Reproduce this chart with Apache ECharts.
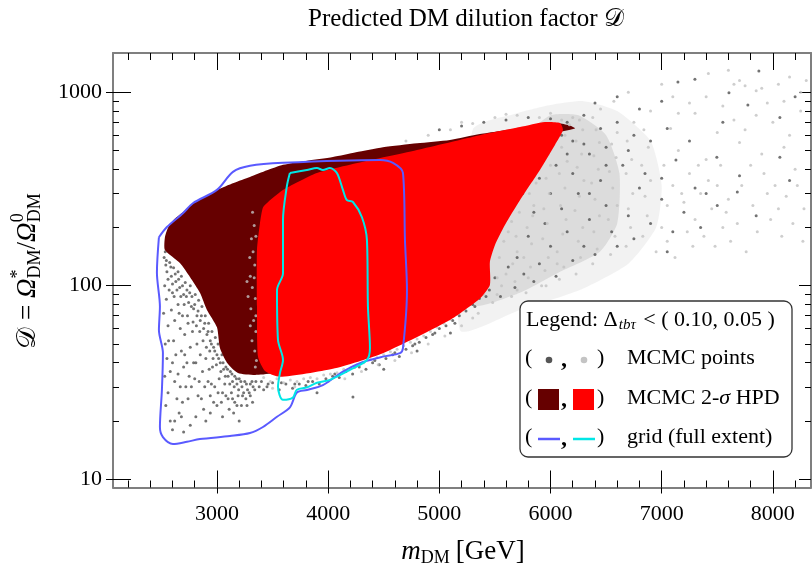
<!DOCTYPE html>
<html lang="en">
<head>
<meta charset="UTF-8" />
<title>Predicted DM dilution factor</title>
<script src="https://cdn.jsdelivr.net/npm/echarts@6/dist/echarts.min.js"></script>
<style>
  html, body { margin: 0; padding: 0; background: #fff; }
  #chart { width: 812px; height: 572px; }
</style>
</head>
<body>
<div id="chart"></div>
<script>
// axis ranges and ticks
const xRange = [2065, 8343];
const yRange = [9.05, 1597];
const xMajor = [3000, 4000, 5000, 6000, 7000, 8000];
const xMinor = [2200, 2400, 2600, 2800, 3200, 3400, 3600, 3800, 4200, 4400, 4600, 4800,
  5200, 5400, 5600, 5800, 6200, 6400, 6600, 6800, 7200, 7400, 7600, 7800, 8200];
const yMajor = [10, 100, 1000];
const yMinor = [20, 30, 40, 50, 60, 70, 80, 90, 200, 300, 400, 500, 600, 700, 800, 900];

// MCMC 2-sigma HPD regions  [m_DM, D]
const hpdDark = [[2532,153],[2532,178],[2559,199],[2620,222],[2694,240],[2800,270],[2900,290],
  [3000,313],[3150,340],[3297,365],[3450,395],[3594,422],[3800,442],[4043,463],[4250,490],
  [4493,520],[4800,545],[5095,567],[5365,608],[5725,654],[5950,680],[6085,690],[6180,672],
  [6220,650],[6000,600],[5800,400],[5550,250],[5380,120],[5200,82],[4646,56],[3746,37],
  [3360,34.6],[3189,35.4],[3090,40],[3027,47.6],[3000,61],[2910,75],[2847,92],[2757,111],
  [2667,131]];
const hpdRed = [[3414,254],[3477,277],[3594,313],[3746,348],[3899,383],[4196,422],[4799,503],
  [5365,600],[5725,661],[5950,702],[6085,694],[6112,638],[6040,534],[5905,397],[5725,277],
  [5590,206],[5500,162],[5455,133],[5455,101],[5365,86],[5095,66.5],[4493,44.8],[4043,37.2],
  [3567,33.8],[3432,36.2],[3369,43],[3360,78],[3360,153],[3387,211]];

// grid scan full extent contours
const gridBlue = [[2478,178],[2460,117],[2487,78],[2478,59],[2514,45],[2505,29],[2487,18.6],
  [2514,16.5],[2604,15.2],[2730,15.6],[2847,16.1],[3117,16.7],[3297,17.3],[3414,18.6],[3540,21],
  [3656,23.5],[3719,28],[3809,28.9],[3953,30.6],[4133,36],[4313,40.3],[4493,43],[4646,44.8],
  [4673,47.6],[4709,95],[4691,172],[4673,383],[4583,432],[4466,447],[3594,432],[3297,417],
  [3144,388],[3000,313],[2784,267],[2694,237],[2550,201],[2478,178]];
const gridCyan = [[3656,383],[3809,397],[3899,406],[3953,397],[4016,406],[4079,383],[4133,313],
  [4169,277],[4223,271],[4304,226],[4349,172],[4358,78],[4376,47.6],[4349,41.3],[4196,36.7],
  [4016,32.6],[3899,31.5],[3809,29.8],[3719,29],[3683,26.4],[3594,25.7],[3549,30],[3567,35.4],
  [3594,41.3],[3549,52.4],[3540,95],[3594,116],[3594,219],[3630,330],[3656,383]];

// density envelopes of the light MCMC cloud (outer, inner)
const cloudOuter = [[5185,59],[5725,75],[6264,95],[6700,130],[6950,200],[7000,330],[6900,560],
  [6600,800],[6300,900],[6000,860],[5700,780],[5300,640]];
const cloudInner = [[5300,80],[5725,92],[6085,118],[6444,150],[6600,210],[6620,380],[6500,600],
  [6250,760],[6000,760],[5800,600]];

// MCMC points, dark set
const mcmcDark = [
  [2525,140],[2540,128],[2550,118],[2575,132],[2590,112],[2610,124],[2630,105],[2650,118],[2665,98],
  [2680,112],[2700,90],[2715,104],[2730,95],[2745,82],[2760,100],[2775,88],[2790,76],[2805,90],
  [2820,70],[2835,84],[2850,66],[2865,78],[2880,60],[2895,70],[2910,56],[2925,64],[2940,52],
  [2955,58],[2970,48],[2985,54],[3000,44],[3010,50],[3030,40],[3045,44],[3060,37],[3080,38],
  [3100,34],[3120,36],[3140,32],[3160,34],[3180,31],[3200,33],[3225,30],[3250,32],[3275,29],
  [3300,31],[3325,30],[3350,32],
  [2530,100],[2545,85],[2520,72],[2560,62],[2535,50],[2550,42],[2530,34],[2560,28],[2540,24],
  [2580,20],[2600,92],[2590,75],[2620,66],[2610,52],[2600,40],[2620,32],[2640,26],[2660,22],
  [2650,80],[2670,60],[2690,70],[2680,46],[2700,38],[2720,30],[2710,56],[2740,64],[2760,48],
  [2740,26],[2780,58],[2790,40],[2800,33],[2820,50],[2830,27],[2850,44],[2870,36],[2880,23],
  [2900,42],[2920,32],[2940,27],[2960,38],[2980,30],[3000,24],[3020,33],[3050,28],[3070,31],
  [3100,26],[3130,28],[3160,25],[3190,27],[3220,24],[3260,26],[2760,19],[2900,20],[3050,21],
  [2600,18],[2700,17.5],[3150,22],[3300,27],[3380,30],[3420,29],
  [2535,150],[2545,135],[2560,108],[2570,95],[2585,125],[2600,102],[2615,88],[2625,115],
  [2640,95],[2655,108],[2660,72],[2675,88],[2690,100],[2705,80],[2725,88],[2735,70],[2755,92],
  [2770,78],[2785,65],[2800,80],[2815,62],[2830,74],[2845,58],[2860,70],[2875,52],[2890,64],
  [2905,48],[2920,58],[2935,46],[2950,50],[2965,42],[2980,46],[2995,39],[3015,42],[3035,36],
  [3055,40],[3075,34],[3095,37],[3115,31],[3135,35],[3155,30],[3175,33],[3195,29],[3215,32],
  [3240,28],[3265,31],[3290,28],[3315,32],[3340,29],[2565,52],[2580,36],[2630,44],[2650,35],
  [2670,30],[2690,25],[2710,44],[2730,40],[2750,34],[2770,30],[2810,40],[2840,32],[2860,26],
  [2890,30],[2930,37],[2950,31],[2970,25],[3010,28],[3040,25],[3080,27],[3110,23],[3140,26],
  [3180,24],[3230,27],[3270,24],[3320,25],[2620,20],[2680,21],[2810,21],[2940,22],[3200,20],
  [3400,32],[3450,30],[3500,31.5],[3560,29],[3620,31],[3680,29.5],[3740,31],[3800,30.5],
  [3860,32],[3920,31],[3980,33],[4040,34],[4100,33.5],[4160,36],[4220,35],[4280,38],[4340,37],
  [4400,40],[4460,39],[4520,42],[4580,44],[4640,43],[4700,47],[4760,49],[4820,51],[4880,54],
  [4940,56],[5000,60],[5060,62],[5120,66],[5180,70],[5240,74],[5300,80],[5360,86],[4223,26.6],
  [3900,28],[4500,37],[4800,46],[5100,57],
  [3460,31],[3580,31.5],[3700,31],[3820,32],[4060,35],[4240,38],[4420,41],[4600,45],[4780,50],
  [4960,57],[5140,64],[5320,78],[5420,88],
  [5450,95],[5500,110],[5550,88],[5620,125],[5680,98],[5700,140],[5760,115],[5800,180],
  [5850,105],[5900,130],[5950,210],[6000,160],[6050,112],[6100,250],[6150,190],[6200,135],
  [6250,300],[6300,160],[6350,220],[6400,145],[6450,350],[6500,260],[6550,190],[6600,160],
  [6650,420],[6700,230],[6750,175],[6800,320],[6900,210],[7000,280],[7100,190],[7200,240],
  [7350,200],[7500,260],[7700,370],[7680,305],[7496,462],[7128,447],[8063,462],
  [5000,640],[5200,670],[5400,700],[5600,720],[5800,740],[6000,730],[6150,700],[6300,760],
  [6450,650],[6600,700],[6750,600],[6900,560],[7050,650],[7146,1130],[7299,1170],[7605,995],
  [7775,860],[7874,1290],[8063,740],[6200,560],[6350,480],[6500,520],[6800,820],[7000,900],
  [5900,620],[6100,600],[6400,880],[6600,950],
  [5750,300],[5900,360],[6050,420],[6200,380],[6350,300],[6500,420],[6700,500],[6850,380],
  [7000,360],[7300,320],[5850,240],[6000,300],[6150,480],[6300,540],
  [7050,150],[7400,300],[7850,230],[8150,350],[7550,700],[7250,560],[8200,950]
];

// MCMC points, light set
const mcmcLight = [
  [3320,240],[3335,205],[3310,175],[3325,150],[3340,128],[3300,112],[3318,98],[3345,86],
  [3305,76],[3330,66],[3350,58],[3315,52],[3340,46],[3355,41],[3295,140],[3280,88],[3300,62],
  [3345,38],[3350,180],[3335,110],[3350,70],[3270,105],
  [3420,33.5],[3480,32],[3540,33],[3600,31.5],[3660,32.5],[3720,32],[3780,33],[3840,33.5],
  [3900,33],[3960,34.5],[4020,35],[4080,35.5],[4140,37],[4200,37.5],[4260,39],[4320,40],
  [4380,41.5],[4440,42.5],[4500,44],[4560,45.5],[4620,47],[4680,49],[4740,51],[4800,53],
  [4860,55],[4920,58],[4980,61],[5040,64],[5100,67],[5160,71],[5220,75],[5280,80],[5340,85],
  [5400,90],[3700,30],[4000,32],[4300,36],[4600,41],[4900,50],[5200,62],[5350,72],[3500,29.5],
  [4150,33],[4450,39],[4750,45],[5050,55],[5300,68],
  [5480,82],[5520,90],[5560,100],[5600,115],[5540,140],[5580,170],[5620,190],[5520,110],
  [5650,88],[5680,105],[5660,130],[5700,150],[5650,215],[5720,240],[5690,180],[5700,95],
  [5780,92],[5800,110],[5820,125],[5760,140],[5830,165],[5790,200],[5850,260],[5810,300],
  [5870,340],[5840,230],
  [5920,100],[5950,120],[5980,140],[5930,175],[5970,210],[5940,250],[5990,300],[5960,360],
  [6000,420],[5980,480],[5960,100],
  [6080,108],[6120,125],[6060,150],[6110,185],[6140,220],[6090,260],[6130,320],[6080,380],
  [6150,440],[6100,520],[6130,600],[6170,680],[6060,130],
  [6230,115],[6270,140],[6250,170],[6290,200],[6220,245],[6260,290],[6300,350],[6240,410],
  [6280,480],[6230,560],[6290,640],[6260,720],
  [6380,130],[6420,155],[6390,190],[6440,230],[6400,280],[6370,340],[6430,400],[6390,470],
  [6440,550],[6410,640],[6380,740],[6450,820],
  [6540,145],[6580,180],[6520,220],[6600,260],[6560,320],[6530,390],[6590,460],[6550,540],
  [6600,620],[6570,900],
  [6680,160],[6720,200],[6700,250],[6740,300],[6680,380],[6730,450],[6690,560],[6750,700],
  [6700,1000],
  [6830,180],[6870,230],[6850,290],[6900,350],[6820,420],[6880,520],[6840,640],[6900,800],
  [7000,200],[7050,260],[7100,330],[7020,420],[7150,500],[7080,650],[7200,270],[7250,380],
  [7300,220],[7350,300],[7400,450],[7450,250],[7500,330],[7550,200],[7600,280],[7650,1100],
  [7700,1150],[7750,1080],[7850,1020],[7900,1050],[8000,700],[8100,900],[8150,600],[8200,400],
  [8250,1000],[7800,420],[7950,300],[8050,250],[7300,780],[7500,620],[7700,550],[7900,480],
  [8100,520],[8270,170],[8250,800],
  [4900,600],[5100,640],[5300,690],[5500,740],[5700,760],[5900,740],[6100,720],[4700,560],
  [5200,700],[5600,770],[6000,780],[6200,740],
  [6950,150],[7050,170],[7120,140],[7180,300],[7230,190],[7280,160],[7330,420],[7380,180],
  [7420,350],[7480,160],[7530,420],[7580,240],[7620,170],[7680,210],[7720,330],[7760,150],
  [7820,260],[7860,190],[7920,380],[7980,220],[8020,330],[8080,180],[8120,290],[8180,210],
  [8220,330],[8280,250],[7150,780],[7250,880],[7400,950],[7550,850],[7650,720],[7750,640],
  [7850,760],[7950,880],[8050,1100],[8150,1200],[8300,1150],[7000,1100],[7100,950],[7420,1250],
  [7600,1300]
];

const SERIF = '"Liberation Serif", "DejaVu Serif", serif';
const measureCtx = document.createElement('canvas').getContext('2d');
function fontStr(size, italic, bold) {
  return (italic ? 'italic ' : '') + (bold ? 'bold ' : '') + size + 'px ' + SERIF;
}
function textWidth(t, size, italic, bold) {
  measureCtx.font = fontStr(size, italic, bold);
  return measureCtx.measureText(t).width;
}
// lay pieces of text side by side (sub/superscripts via dy), anchor left or center
function mathText(pieces, x, y, anchor, rotation) {
  let cx = 0;
  const children = [];
  pieces.forEach(p => {
    children.push({
      type: 'text', x: cx, y: p.dy || 0, z: 101,
      style: {
        text: p.t, font: fontStr(p.s, p.it, p.b), fill: '#000',
        align: 'left', textAlign: 'left', verticalAlign: 'middle', textVerticalAlign: 'middle'
      }
    });
    if (p.adv !== false) cx += textWidth(p.t, p.s, p.it, p.b) + (p.gap || 0);
  });
  const shift = anchor === 'center' ? -cx / 2 : 0;
  children.forEach(c => { c.x += shift; });
  return { type: 'group', x: x, y: y, rotation: rotation || 0, children: children, z: 101 };
}

const plainLabel = v => String(Math.round(v));

function xAxisDef(pos, ticks, len, inside, showLine, labels) {
  return {
    type: 'value', position: pos, min: xRange[0], max: xRange[1],
    axisLine: { show: showLine, onZero: false, lineStyle: { color: '#7f7f7f', width: 2 } },
    axisTick: { show: true, customValues: ticks, inside: inside, length: len,
      lineStyle: { color: '#000', width: 1 } },
    axisLabel: labels ? { customValues: labels, formatter: plainLabel, margin: 16, fontSize: 22,
      fontFamily: SERIF, color: '#000' } : { show: false },
    splitLine: { show: false }
  };
}
function yAxisDef(pos, ticks, len, inside, showLine, labels) {
  return {
    type: 'log', logBase: 10, position: pos, min: yRange[0], max: yRange[1],
    axisLine: { show: showLine, onZero: false, lineStyle: { color: '#7f7f7f', width: 2 } },
    axisTick: { show: true, customValues: ticks, inside: inside, length: len,
      lineStyle: { color: '#000', width: 1 } },
    axisLabel: labels ? { customValues: labels, formatter: plainLabel, margin: 11, fontSize: 22,
      fontFamily: SERIF, color: '#000' } : { show: false },
    splitLine: { show: false }
  };
}

function areaSeries(pts, color, z, opacity) {
  return {
    type: 'custom', z: z, silent: true, clip: true,
    xAxisIndex: 0, yAxisIndex: 0,
    data: [pts[0]],
    renderItem: (params, api) => ({
      type: 'polygon',
      shape: { points: pts.map(p => api.coord(p)), smooth: 0.2 },
      style: { fill: color, opacity: opacity == null ? 1 : opacity }
    })
  };
}

const chart = echarts.init(document.getElementById('chart'));

const legendGraphics = [
  { type: 'rect', z: 99, shape: { x: 520, y: 301, width: 272, height: 156, r: 8 },
    style: { fill: '#fff', stroke: '#333', lineWidth: 1.3 } },
  mathText([{ t: 'Legend: Δ', s: 22, gap: 1 }, { t: 'tbτ', s: 15, dy: 5, it: true, gap: 2 },
    { t: ' < ( 0.10, 0.05 )', s: 22 }], 526, 320, 'left'),
  mathText([{ t: '(', s: 22 }], 525, 358, 'left'),
  { type: 'circle', z: 101, shape: { cx: 549, cy: 360, r: 3.3 }, style: { fill: '#555' } },
  mathText([{ t: ',', s: 24, b: true }], 561, 360, 'left'),
  { type: 'circle', z: 101, shape: { cx: 584, cy: 360, r: 3.3 }, style: { fill: '#c4c4c4' } },
  mathText([{ t: ')', s: 22 }], 597, 358, 'left'),
  mathText([{ t: 'MCMC points', s: 22 }], 627, 358, 'left'),
  mathText([{ t: '(', s: 22 }], 525, 398, 'left'),
  { type: 'rect', z: 101, shape: { x: 538, y: 389, width: 21, height: 21 }, style: { fill: '#660000' } },
  mathText([{ t: ',', s: 24, b: true }], 561, 400, 'left'),
  { type: 'rect', z: 101, shape: { x: 573, y: 389, width: 21, height: 21 }, style: { fill: '#ff0000' } },
  mathText([{ t: ')', s: 22 }], 597, 398, 'left'),
  mathText([{ t: 'MCMC 2-', s: 22 }, { t: 'σ', s: 22, it: true }, { t: ' HPD', s: 22 }], 627, 398, 'left'),
  mathText([{ t: '(', s: 22 }], 525, 437, 'left'),
  { type: 'line', z: 101, shape: { x1: 538, y1: 439, x2: 560, y2: 439 },
    style: { stroke: '#5a5aff', lineWidth: 2.5 } },
  mathText([{ t: ',', s: 24, b: true }], 561, 439, 'left'),
  { type: 'line', z: 101, shape: { x1: 573, y1: 439, x2: 595, y2: 439 },
    style: { stroke: '#00e6e6', lineWidth: 2.5 } },
  mathText([{ t: ')', s: 22 }], 597, 437, 'left'),
  mathText([{ t: 'grid (full extent)', s: 22 }], 627, 437, 'left')
];

const option = {
  backgroundColor: '#fff',
  animation: false,
  grid: { left: 113, top: 53, width: 698, height: 434.5, containLabel: false, outerBoundsMode: 'none' },
  xAxis: [
    xAxisDef('bottom', xMajor, 17, true, true, xMajor),
    xAxisDef('bottom', xMinor, 7, true, false, null),
    xAxisDef('bottom', xMajor, 6, false, false, null),
    xAxisDef('top', xMajor, 17, true, true, null),
    xAxisDef('top', xMinor, 7, true, false, null)
  ],
  yAxis: [
    yAxisDef('left', yMajor, 18, true, true, yMajor),
    yAxisDef('left', yMinor, 6, true, false, null),
    yAxisDef('left', yMajor, 7, false, false, null),
    yAxisDef('right', yMajor, 12, true, true, null),
    yAxisDef('right', yMinor, 6, true, false, null)
  ],
  series: [
    areaSeries(cloudOuter, '#d4d4d4', 1, 0.3),
    areaSeries(cloudInner, '#c6c6c6', 1, 0.5),
    { type: 'scatter', data: mcmcDark, symbolSize: 3, silent: true, z: 2,
      itemStyle: { color: '#505050' } },
    areaSeries(hpdDark, '#660000', 3),
    { type: 'scatter', data: mcmcLight, symbolSize: 3, silent: true, z: 5,
      itemStyle: { color: '#c2c2c2' } },
    areaSeries(hpdRed, '#ff0000', 6),
    { type: 'line', data: gridBlue, symbol: 'none', smooth: 0.3, silent: true, z: 7,
      lineStyle: { color: '#5a5aff', width: 2 } },
    { type: 'line', data: gridCyan, symbol: 'none', smooth: 0.3, silent: true, z: 8,
      lineStyle: { color: '#00e6e6', width: 2 } }
  ],
  graphic: [
    mathText([{ t: 'Predicted DM dilution factor ', s: 25 }, { t: '𝒟', s: 25 }], 466, 19, 'center'),
    mathText([{ t: 'm', s: 27, it: true }, { t: 'DM', s: 18, dy: 6, gap: 6 }, { t: '[GeV]', s: 27 }],
      463, 552, 'center'),
    mathText([{ t: '𝒟', s: 27 }, { t: ' = ', s: 27 }, { t: 'Ω', s: 27, it: true },
      { t: '*', s: 18, dy: -10, adv: false }, { t: 'DM', s: 18, dy: 7 }, { t: '/', s: 27 },
      { t: 'Ω', s: 27, it: true }, { t: '0', s: 18, dy: -10, adv: false }, { t: 'DM', s: 18, dy: 7 }],
      28, 271, 'center', Math.PI / 2)
  ].concat(legendGraphics)
};
chart.setOption(option);
</script>
</body>
</html>
